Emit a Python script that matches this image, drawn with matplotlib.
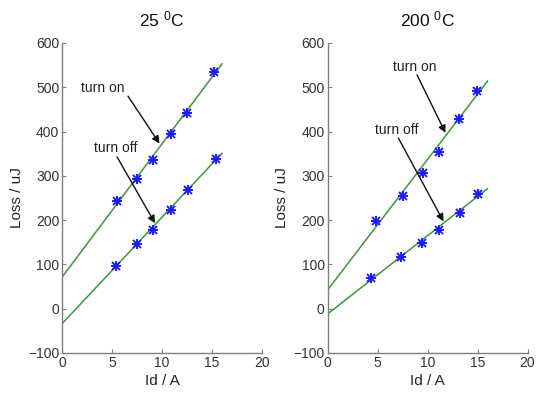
import matplotlib.pyplot as plt
import numpy as np

plt.rcParams['font.family'] = ['Liberation Sans', 'DejaVu Sans']
plt.rcParams['mathtext.default'] = 'regular'

# measured loss points (Id in A, loss in uJ)
on25_x = [5.5, 7.5, 9.05, 10.9, 12.45, 15.2]
on25_y = [244, 294, 336, 394, 442, 534]
off25_x = [5.4, 7.5, 9.05, 10.9, 12.6, 15.35]
off25_y = [97, 146, 178, 224, 268, 338]

on200_x = [4.8, 7.5, 9.5, 11.1, 13.1, 14.95]
on200_y = [197, 255, 306, 353, 428, 492]
off200_x = [4.3, 7.35, 9.4, 11.1, 13.2, 15.05]
off200_y = [69, 116, 148, 178, 217, 259]

# fitted lines, values at Id = 0 and Id = 16
fit_x = [0, 16]
on25_fit = [71, 553]
off25_fit = [-34, 351]
on200_fit = [42, 514]
off200_fit = [-12, 271]

titles = ['25 $^{0}$C', '200 $^{0}$C']

# label positions and arrows (text pos, arrow tail, arrow head)
labels25 = {'turn on': ((4.05, 498), (6.6, 480), (9.75, 373)),
            'turn off': ((5.4, 363), (5.5, 343), (9.3, 193))}
labels200 = {'turn on': ((8.7, 545), (8.95, 528), (11.8, 397)),
             'turn off': ((6.9, 404), (7.1, 385), (11.6, 197))}

green = '#3c963c'
blue = '#1c1cff'
grey = '#7f7f7f'

fig = plt.figure(figsize=(5.36, 3.97), dpi=100)
ax1 = fig.add_axes([62 / 536, 1 - 353 / 397, 200 / 536, 310 / 397])
ax2 = fig.add_axes([327.5 / 536, 1 - 353 / 397, 200 / 536, 310 / 397])

panels = [
    (ax1, on25_x, on25_y, off25_x, off25_y, on25_fit, off25_fit, labels25),
    (ax2, on200_x, on200_y, off200_x, off200_y, on200_fit, off200_fit, labels200),
]

for i, (ax, xon, yon, xoff, yoff, fon, foff, labels) in enumerate(panels):
    ax.plot(fit_x, fon, color=green, lw=1.1, zorder=2)
    ax.plot(fit_x, foff, color=green, lw=1.1, zorder=2)
    # Matlab style asterisk = plus + cross
    for xs, ys in [(xon, yon), (xoff, yoff)]:
        ax.plot(xs, ys, '+', color=blue, ms=7, mew=1.4, ls='none', zorder=3)
        ax.plot(xs, ys, 'x', color=blue, ms=5.5, mew=1.4, ls='none', zorder=3)

    for name, (tpos, tail, head) in labels.items():
        ax.text(tpos[0], tpos[1], name, ha='center', va='center', fontsize=10, color='#222222')
        ax.annotate('', xy=head, xytext=tail,
                    arrowprops=dict(arrowstyle='-|>', color='#111111', lw=1.0,
                                    mutation_scale=11, shrinkA=0, shrinkB=0))

    ax.set_xlim(0, 20)
    ax.set_ylim(-100, 600)
    ax.set_xticks([0, 5, 10, 15, 20])
    ax.set_yticks(np.arange(-100, 601, 100))
    ax.spines['top'].set_visible(False)
    ax.spines['right'].set_visible(False)
    for s in ['left', 'bottom']:
        ax.spines[s].set_color(grey)
        ax.spines[s].set_linewidth(1.0)
    ax.tick_params(direction='in', length=3, color=grey, labelsize=10,
                   labelcolor='#333333', pad=2)
    ax.set_xlabel('Id / A', fontsize=11, color='#222222', labelpad=3)
    ax.set_ylabel('Loss / uJ', fontsize=11, color='#222222', labelpad=3)
    ax.set_title(titles[i], fontsize=12.5, color='#111111', pad=12)

fig.savefig('out.png', dpi=100)
